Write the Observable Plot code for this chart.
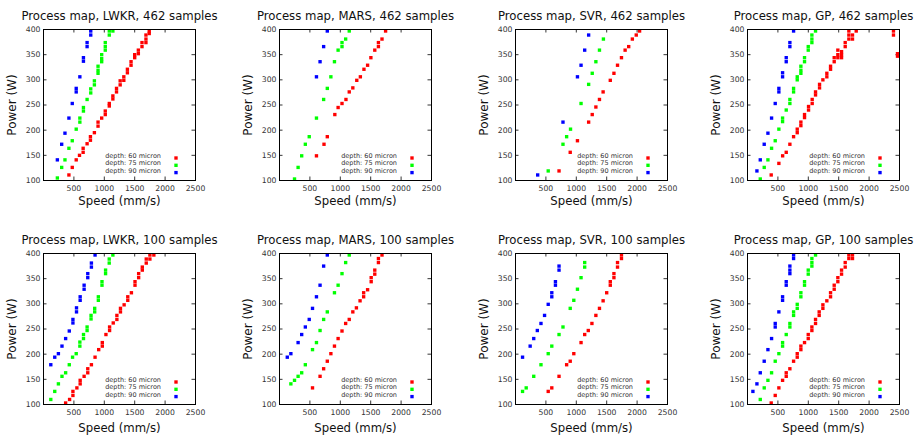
<!DOCTYPE html>
<html><head><meta charset="utf-8">
<script src="https://cdn.jsdelivr.net/npm/d3@7"></script>
<script src="https://cdn.jsdelivr.net/npm/@observablehq/plot@0.6"></script>
<style>
body{margin:0;background:#fff;}
#wrap{position:relative;width:917px;height:443px;overflow:hidden;background:#fff;font-family:"DejaVu Sans",sans-serif;}
#wrap svg{position:absolute;overflow:visible;}
</style></head><body><div id="wrap"></div>
<script>
const xTicks = [500, 1000, 1500, 2000, 2500];
const yTicks = [100, 150, 200, 250, 300, 350, 400];
const depthLabels = ["depth: 60 micron", "depth: 75 micron", "depth: 90 micron"];
const depthColors = ["#ff0000", "#00ff00", "#0000ff"];
const models = ["LWKR", "MARS", "SVR", "GP"];
const sampleCounts = [462, 100];

// [speed, power] per depth, 462 samples
const lwkr462_60 = [[418,111],[473,126],[538,141],[592,150],[652,156],[652,164],[717,173],[772,180],[772,187],[837,195],[897,208],[897,216],[957,224],[1016,231],[1016,238],[1082,248],[1082,253],[1141,262],[1141,268],[1201,276],[1201,283],[1261,290],[1261,298],[1321,299],[1321,306],[1380,314],[1380,321],[1440,329],[1440,336],[1500,344],[1500,350],[1560,352],[1560,359],[1620,366],[1620,374],[1685,374],[1685,381],[1685,389],[1739,392],[1739,397]];
const lwkr462_75 = [[228,105],[299,126],[353,141],[418,164],[473,179],[538,202],[598,216],[598,224],[657,238],[657,245],[717,261],[777,274],[777,282],[837,290],[837,298],[897,313],[897,319],[897,327],[957,336],[957,342],[957,350],[1016,359],[1016,366],[1016,374],[1082,389],[1082,397],[1141,397]];
const lwkr462_90 = [[228,141],[299,172],[353,194],[418,224],[473,253],[538,276],[538,283],[598,306],[657,337],[657,344],[717,366],[717,374],[777,389],[777,397]];
const mars462_60 = [[608,149],[732,172],[786,187],[910,231],[964,245],[1028,253],[1093,261],[1147,276],[1206,284],[1271,299],[1330,306],[1389,321],[1449,329],[1503,344],[1567,359],[1627,366],[1627,374],[1686,381],[1745,397]];
const mars462_75 = [[247,103],[306,126],[365,149],[425,172],[489,187],[608,224],[726,261],[786,283],[845,306],[904,336],[964,359],[1028,366],[1028,374],[1088,381],[1147,397]];
const mars462_90 = [[608,306],[667,336],[726,366],[786,397]];
const svr462_60 = [[716,119],[900,156],[1019,179],[1203,216],[1262,231],[1322,246],[1381,261],[1441,276],[1559,299],[1619,313],[1678,329],[1743,344],[1803,359],[1862,366],[1922,381],[1986,389],[2041,397]];
const svr462_75 = [[538,119],[781,172],[841,187],[905,202],[1078,253],[1203,291],[1262,313],[1322,336],[1381,359],[1446,381]];
const svr462_90 = [[365,111],[781,216],[1019,306],[1078,329],[1138,359],[1203,389]];
const gp462_60 = [[390,111],[516,134],[578,149],[637,156],[697,172],[758,187],[818,195],[818,202],[878,209],[878,216],[938,225],[938,231],[1004,240],[1004,247],[1064,253],[1064,261],[1119,270],[1119,276],[1185,284],[1185,291],[1240,300],[1305,306],[1305,313],[1366,321],[1366,327],[1426,336],[1426,344],[1486,344],[1486,350],[1486,359],[1547,344],[1547,350],[1547,356],[1607,366],[1607,374],[1667,381],[1667,389],[1667,397],[1727,381],[1727,389],[1788,397],[2401,389],[2401,397],[2467,347],[2467,352]];
const gp462_75 = [[210,103],[275,126],[336,141],[396,164],[456,179],[516,202],[577,217],[577,224],[637,240],[697,253],[697,261],[758,276],[758,283],[818,300],[818,306],[878,313],[878,319],[878,327],[938,336],[938,344],[999,359],[999,366],[1059,374],[1059,381],[1059,389],[1119,397]];
const gp462_90 = [[155,119],[210,141],[275,172],[336,194],[396,224],[456,253],[516,276],[516,283],[577,306],[577,314],[637,336],[637,344],[697,366],[697,374],[758,397]];

// 100 samples
const lwkr100_60 = [[364,103],[429,110],[484,118],[484,126],[549,133],[603,141],[603,148],[668,156],[728,163],[728,171],[788,179],[848,194],[908,209],[967,216],[967,223],[1027,239],[1087,247],[1087,254],[1147,262],[1207,269],[1207,277],[1266,284],[1266,291],[1326,298],[1386,307],[1386,314],[1446,322],[1505,337],[1505,344],[1565,352],[1565,360],[1625,367],[1625,373],[1690,381],[1690,389],[1750,389],[1750,397],[1815,397]];
const lwkr100_75 = [[120,110],[185,126],[245,141],[304,156],[364,163],[424,179],[478,194],[538,201],[598,216],[598,224],[658,231],[658,239],[717,247],[717,254],[782,270],[782,277],[842,284],[842,291],[902,307],[902,314],[962,337],[962,344],[1021,360],[1021,367],[1081,381],[1081,389],[1141,397]];
const lwkr100_90 = [[120,179],[185,194],[245,201],[304,216],[364,231],[424,246],[484,262],[484,269],[543,284],[543,292],[603,307],[603,314],[668,329],[668,337],[728,352],[728,360],[788,373],[788,381],[848,397]];
const mars100_60 = [[543,133],[667,156],[726,171],[786,186],[845,201],[904,216],[964,231],[1028,246],[1088,261],[1147,269],[1206,284],[1265,292],[1325,306],[1384,314],[1384,322],[1449,328],[1508,344],[1508,352],[1567,359],[1567,367],[1627,382],[1627,390],[1686,397]];
const mars100_75 = [[187,141],[247,148],[306,156],[365,163],[425,179],[543,209],[608,223],[667,247],[726,269],[786,284],[904,322],[964,337],[1028,360],[1088,382],[1147,397]];
const mars100_90 = [[128,194],[187,201],[306,223],[365,239],[425,254],[489,269],[543,291],[608,314],[667,337],[726,375],[786,397]];
const svr100_60 = [[538,126],[597,133],[716,156],[841,179],[900,186],[959,201],[1078,223],[1138,239],[1197,247],[1257,261],[1322,277],[1381,291],[1441,306],[1500,322],[1559,337],[1559,344],[1619,352],[1619,360],[1678,373],[1678,382],[1743,390],[1743,397]];
const svr100_75 = [[116,126],[176,133],[300,156],[419,179],[538,201],[597,216],[716,239],[781,254],[900,291],[959,307],[1019,329],[1078,352],[1138,373],[1138,382]];
const svr100_90 = [[116,194],[241,216],[300,231],[359,247],[419,261],[478,277],[538,299],[597,314],[597,322],[657,337],[657,344],[716,367],[716,375]];
const gp100_60 = [[390,103],[456,118],[516,133],[577,148],[637,156],[637,163],[697,171],[758,186],[818,194],[818,201],[878,209],[878,216],[938,223],[999,231],[999,239],[1059,247],[1059,254],[1119,261],[1119,269],[1179,277],[1179,284],[1240,291],[1240,298],[1305,306],[1366,314],[1366,322],[1426,329],[1426,337],[1486,344],[1486,352],[1547,359],[1547,367],[1607,373],[1607,382],[1667,390],[1667,397],[1727,390],[1727,397]];
const gp100_75 = [[210,110],[275,133],[336,148],[396,163],[456,186],[516,201],[577,216],[577,223],[637,239],[697,254],[697,261],[758,277],[758,284],[818,291],[818,299],[878,314],[878,322],[938,337],[938,344],[999,359],[999,367],[1059,375],[1059,382],[1059,390],[1119,397]];
const gp100_90 = [[89,126],[155,141],[210,163],[275,186],[336,209],[396,231],[456,254],[456,261],[516,284],[577,307],[577,314],[637,337],[637,344],[697,360],[697,367],[697,375],[758,390],[758,397]];

const panelSeries = [
  [[lwkr462_60, lwkr462_75, lwkr462_90], [mars462_60, mars462_75, mars462_90], [svr462_60, svr462_75, svr462_90], [gp462_60, gp462_75, gp462_90]],
  [[lwkr100_60, lwkr100_75, lwkr100_90], [mars100_60, mars100_75, mars100_90], [svr100_60, svr100_75, svr100_90], [gp100_60, gp100_75, gp100_90]]
];

const frameLefts = [43.3, 279.3, 515, 747.3];
const frameTops = [29.3, 253.3];
const xLabelDy = [24.6, 27.7];
const W = 152, H = 151, ml = 45, mr = 25, mt = 30, mb = 38;
const wrap = document.getElementById("wrap");

function makePanel(row, col) {
  const series = panelSeries[row][col];
  const data = series.flatMap((pts, i) => pts.map(([x, y]) => ({x, y, c: depthColors[i]})));
  const legendMarks = depthLabels.flatMap((lab, i) => [
    Plot.text([lab], {text: d => d, frameAnchor: "bottom-right", dx: -34.5, dy: -(22.5 - 7.3 * i), textAnchor: "end", fontSize: 6.5, fill: "#333"}),
    Plot.dot([lab], {frameAnchor: "bottom-right", dx: -19.5, dy: -(22.5 - 7.3 * i), fill: depthColors[i], symbol: "square", r: 1.9})
  ]);
  const svg = Plot.plot({
    width: ml + W + mr, height: mt + H + mb,
    marginLeft: ml, marginRight: mr, marginTop: mt, marginBottom: mb,
    x: {domain: [0, 2500]}, y: {domain: [100, 400]},
    color: {type: "identity"},
    style: {fontFamily: "DejaVu Sans", fontSize: "8px", background: "transparent", overflow: "visible", color: "#000"},
    marks: [
      Plot.tickY(yTicks, {y: d => d, insetRight: W - 3.5, stroke: "#000", strokeWidth: 0.8}),
      Plot.tickY(yTicks, {y: d => d, insetLeft: W - 3.5, stroke: "#000", strokeWidth: 0.8}),
      Plot.tickX(xTicks, {x: d => d, insetBottom: H - 3.5, stroke: "#000", strokeWidth: 0.8}),
      Plot.tickX(xTicks, {x: d => d, insetTop: H - 3.5, stroke: "#000", strokeWidth: 0.8}),
      Plot.axisX(xTicks, {tickSize: 0, tickPadding: 5.5, fontSize: 7.7, label: null, fill: "#333", tickFormat: d => String(d)}),
      Plot.axisY(yTicks, {tickSize: 0, tickPadding: 3, fontSize: 7.7, label: null, fill: "#333", tickFormat: d => String(d)}),
      Plot.dot(data, {x: "x", y: "y", fill: "c", symbol: "square", r: 1.9}),
      Plot.frame({stroke: "#000", strokeWidth: 1}),
      Plot.text([`Process map, ${models[col]}, ${sampleCounts[row]} samples`], {text: d => d, frameAnchor: "top", dy: -18, fontSize: 11.7, fill: "#111"}),
      Plot.text(["Speed (mm/s)"], {text: d => d, frameAnchor: "bottom", dy: xLabelDy[row], fontSize: 11.7, fill: "#111"}),
      Plot.text(["Power (W)"], {text: d => d, frameAnchor: "middle", textAnchor: "middle", dx: -(W / 2 + 31), rotate: -90, fontSize: 12, fill: "#111"}),
      ...legendMarks
    ]
  });
  svg.style.left = (frameLefts[col] - ml) + "px";
  svg.style.top = (frameTops[row] - mt) + "px";
  wrap.appendChild(svg);
}
for (let r = 0; r < 2; r++) for (let c = 0; c < 4; c++) makePanel(r, c);
</script>
</body></html>
